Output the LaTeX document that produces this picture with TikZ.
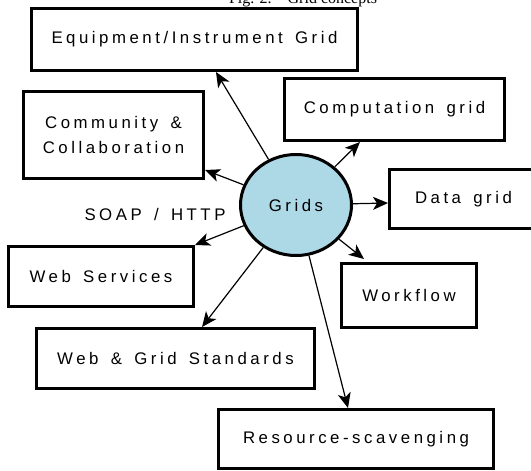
\documentclass[tikz,border=0pt]{standalone}
\usepackage{fontspec}
\setmainfont{Liberation Serif}
\newfontfamily\labelfont[LetterSpace=21,WordSpace=1.5]{Liberation Sans}
\usetikzlibrary{calc,shapes.geometric,arrows.meta}
\definecolor{gridblue}{RGB}{173,216,230}
\begin{document}
\begin{tikzpicture}[x=1pt,y=-1pt,
  concept/.style={draw=black,line width=3pt,rectangle,inner sep=0pt,
    font=\labelfont\fontsize{16.8}{25}\selectfont,align=center},
  hub/.style={draw=black,line width=3pt,ellipse,fill=gridblue,inner sep=0pt,
    minimum width=111pt,minimum height=101pt,font=\labelfont\fontsize{16.8}{25}\selectfont},
  tag/.style={inner sep=0pt,font=\labelfont\fontsize{16.8}{25}\selectfont},
  link/.style={line width=1.2pt,-{Stealth[length=15pt,width=13pt,inset=4pt]}}]
\useasboundingbox (0,0) rectangle (531,471);

% caption above the figure
\node[anchor=base,inner sep=0pt,font=\fontsize{16}{19}\selectfont] (cap) at (303,3)
  {Fig. 2.\hspace{16pt}Grid concepts};

% central concept
\node[hub] (g) at (296,205) {Grids};

% surrounding concepts
\node[concept,minimum width=326pt,minimum height=62pt] (eq)   at (194.5,39.5) {Equipment/Instrument Grid};
\node[concept,minimum width=220pt,minimum height=62pt] (comp) at (394.5,109.5) {Computation grid};
\node[concept,minimum width=180pt,minimum height=87pt] (comm) at (113.5,135) {Community \&\\Collaboration};
\node[concept,minimum width=148pt,minimum height=59pt] (data) at (463.5,199) {Data grid};
\node[concept,minimum width=185pt,minimum height=60pt] (ws)   at (101,276.5) {Web Services};
\node[concept,minimum width=135pt,minimum height=64pt] (wf)   at (409,295.5) {Workflow};
\node[concept,minimum width=278pt,minimum height=60pt] (std)  at (175.5,358.5) {Web \& Grid Standards};
\node[concept,minimum width=275pt,minimum height=59pt] (res)  at (356,439) {Resource-scavenging};

\node[tag] (soap) at (155,214) {SOAP / HTTP};

% connectors radiating from the hub
\draw[link] (g) -- ($(eq.south)+(21.5,0)$);
\draw[link] (g) -- ($(comp.south)+(-34.5,0)$);
\draw[link] (g) -- ($(comm.east)+(0,35)$);
\draw[link] (g) -- ($(data.west)+(0,4)$);
\draw[link] (g) -- (ws.north east);
\draw[link] (g) -- ($(std.north)+(26.5,0)$);
\draw[link] (g) -- ($(wf.north)+(-45,-3)$);
\draw[link] (g) -- ($(res.north)+(-8,0)$);
\end{tikzpicture}
\end{document}
